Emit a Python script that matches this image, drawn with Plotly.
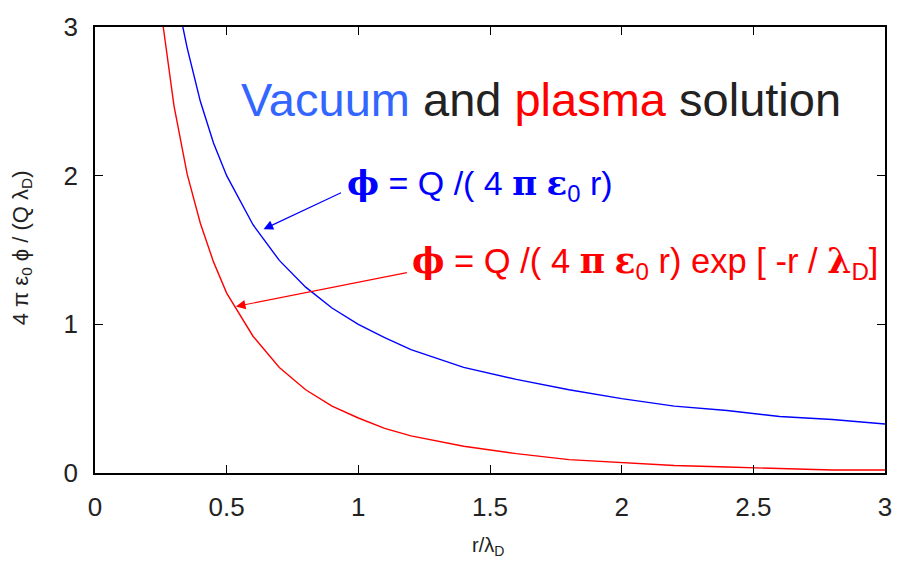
import plotly.graph_objects as go

# values
r_vac = [0.30, 0.33, 0.35, 0.40, 0.45, 0.50, 0.60, 0.70, 0.80, 0.90, 1.00, 1.10, 1.20,
         1.40, 1.60, 1.80, 2.00, 2.20, 2.40, 2.60, 2.80, 3.00]
phi_vac = [3.33, 3.03, 2.86, 2.50, 2.22, 2.00, 1.67, 1.43, 1.25, 1.11, 1.00, 0.91, 0.83,
           0.71, 0.63, 0.56, 0.50, 0.45, 0.42, 0.38, 0.36, 0.33]
r_pla = [0.22, 0.25, 0.30, 0.35, 0.40, 0.45, 0.50, 0.60, 0.70, 0.80, 0.90, 1.00, 1.10, 1.20,
         1.40, 1.60, 1.80, 2.00, 2.20, 2.40, 2.60, 2.80, 3.00]
phi_pla = [3.65, 3.12, 2.47, 2.01, 1.68, 1.42, 1.21, 0.92, 0.71, 0.56, 0.45, 0.37, 0.30, 0.25,
           0.18, 0.13, 0.09, 0.07, 0.05, 0.04, 0.03, 0.02, 0.02]
x_ticks = [0, 0.5, 1, 1.5, 2, 2.5, 3]
x_tick_labels = ["0", "0.5", "1", "1.5", "2", "2.5", "3"]
y_ticks = [0, 1, 2, 3]
y_tick_labels = ["0", "1", "2", "3"]

SANS = "Liberation Sans, Arial, sans-serif"
SYM = "font-family:'DejaVu Serif', serif"

fig = go.Figure()
fig.add_trace(go.Scatter(x=r_vac, y=phi_vac, mode="lines",
                         line=dict(color="#0000ff", width=1.4), showlegend=False))
fig.add_trace(go.Scatter(x=r_pla, y=phi_pla, mode="lines",
                         line=dict(color="#ff0000", width=1.4), showlegend=False))

axis_common = dict(showline=True, linecolor="black", linewidth=1.5, mirror="ticks",
                   ticks="inside", ticklen=8, tickcolor="black", tickwidth=1.2,
                   showgrid=False, zeroline=False,
                   tickfont=dict(family=SANS, size=26, color="#222"))
fig.update_xaxes(range=[0, 3], tickvals=x_ticks, ticktext=x_tick_labels,
                 ticklabelstandoff=10, **axis_common)
fig.update_yaxes(range=[0, 3], tickvals=y_ticks, ticktext=y_tick_labels,
                 ticklabelstandoff=10, **axis_common)

def s(ch):
    return f"<span style=\"{SYM}\"><b>{ch}</b></span>"

ann = []
# title
ann.append(dict(xref="paper", yref="paper", x=0.565, y=0.838, xanchor="center", yanchor="middle",
                showarrow=False,
                text="<span style='color:#3366ff'>Vacuum</span> and "
                     "<span style='color:#ff0000'>plasma</span> solution",
                font=dict(family=SANS, size=47, color="#222")))
# blue label
ann.append(dict(x=0.948, y=1.936, xref="x", yref="y", xanchor="left", yanchor="middle",
                showarrow=False,
                text=f"{s('ϕ')} = Q /( 4 {s('π')} {s('ε')}<sub>0</sub> r)",
                font=dict(family=SANS, size=34, color="#0000ff")))
# red label
ann.append(dict(x=1.197, y=1.41, xref="x", yref="y", xanchor="left", yanchor="middle",
                showarrow=False,
                text=f"{s('ϕ')} = Q /( 4 {s('π')} {s('ε')}<sub>0</sub> r) exp [ -r / {s('λ')}<sub>D</sub>]",
                font=dict(family=SANS, size=34.5, color="#ff0000")))
# arrows
ann.append(dict(x=0.64, y=1.64, ax=0.94, ay=1.89, xref="x", yref="y", axref="x", ayref="y",
                text="", showarrow=True, arrowhead=2, arrowsize=1.6, arrowwidth=1.2,
                arrowcolor="#0000ff"))
ann.append(dict(x=0.535, y=1.12, ax=1.19, ay=1.35, xref="x", yref="y", axref="x", ayref="y",
                text="", showarrow=True, arrowhead=2, arrowsize=1.6, arrowwidth=1.2,
                arrowcolor="#ff0000"))
# axis titles
ann.append(dict(xref="paper", yref="paper", x=-0.093, y=0.505, xanchor="center", yanchor="middle",
                textangle=-90, showarrow=False,
                text="4 π ε<sub>0</sub> ϕ / (Q λ<sub>D</sub>)",
                font=dict(family=SANS, size=22, color="#222")))
ann.append(dict(xref="paper", yref="paper", x=0.497, y=-0.165, xanchor="center", yanchor="middle",
                showarrow=False, text="r/λ<sub>D</sub>",
                font=dict(family=SANS, size=20, color="#222")))

fig.update_layout(width=904, height=567, margin=dict(l=95, r=12, t=19, b=94),
                  paper_bgcolor="white", plot_bgcolor="white", annotations=ann)

fig.write_html("out.html", config={"displayModeBar": False},
               post_script="document.body.style.margin='0';document.body.style.overflow='hidden';")
